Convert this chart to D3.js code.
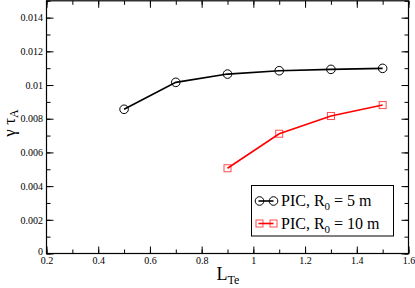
<!DOCTYPE html>
<html>
<head>
<meta charset="utf-8">
<script src="https://cdn.jsdelivr.net/npm/d3@7"></script>
<style>
	body { margin: 0; background: #fff; }
	svg text { font-family: "Liberation Serif", "DejaVu Serif", serif; fill: #000; }
	.domain { display: none; }
</style>
</head>
<body>
<div id="chart"></div>
<script>
// data
var lte5 = [0.5, 0.7, 0.9, 1.1, 1.3, 1.5];
var gamma5 = [0.00856, 0.01016, 0.01065, 0.01085, 0.01093, 0.01099];
var lte10 = [0.9, 1.1, 1.3, 1.5];
var gamma10 = [0.00506, 0.00711, 0.00816, 0.00881];

var xTicks = [0.2, 0.4, 0.6, 0.8, 1, 1.2, 1.4, 1.6];
var yTicks = [0, 0.002, 0.004, 0.006, 0.008, 0.01, 0.012, 0.014];

var series = [
	{name: "5 m", x: lte5, y: gamma5, color: "#000", symbol: "circle"},
	{name: "10 m", x: lte10, y: gamma10, color: "#f00", symbol: "square"}
];

var W = 415, H = 288;
var margin = {top: 0.8, right: 6.5, bottom: 34.5, left: 46.5},
	width = W - margin.left - margin.right,
	height = H - margin.top - margin.bottom;

var svg = d3.select("#chart").append("svg")
	.attr("width", W)
	.attr("height", H);

var plot = svg.append("g")
	.attr("transform", "translate(" + margin.left + "," + margin.top + ")");

var x = d3.scaleLinear().domain([0.2, 1.6]).range([0, width]);
var y = d3.scaleLinear().domain([0, 0.015]).range([height, 0]);

var fmt = function(d) { return d === 0 ? "0" : String(+d.toFixed(3)); };

var xMinor = d3.range(2, 17).map(function(i) { return i / 10; });
var yMinor = d3.range(0, 16).map(function(i) { return i / 1000; });

// minor ticks on all four sides
plot.append("g").attr("transform", "translate(0," + height + ")")
	.call(d3.axisBottom(x).tickValues(xMinor).tickSize(-4).tickFormat(""));
plot.append("g")
	.call(d3.axisTop(x).tickValues(xMinor).tickSize(-4).tickFormat(""));
plot.append("g")
	.call(d3.axisLeft(y).tickValues(yMinor).tickSize(-4).tickFormat(""));
plot.append("g").attr("transform", "translate(" + width + ",0)")
	.call(d3.axisRight(y).tickValues(yMinor).tickSize(-4).tickFormat(""));

// major ticks
plot.append("g").attr("class", "xAxis")
	.attr("transform", "translate(0," + height + ")")
	.call(d3.axisBottom(x).tickValues(xTicks).tickSize(-7).tickPadding(3.5).tickFormat(fmt));
plot.append("g")
	.call(d3.axisTop(x).tickValues(xTicks).tickSize(-7).tickFormat(""));
plot.append("g").attr("class", "yAxis")
	.call(d3.axisLeft(y).tickValues(yTicks).tickSize(-7).tickPadding(3.5).tickFormat(fmt));
plot.append("g").attr("transform", "translate(" + width + ",0)")
	.call(d3.axisRight(y).tickValues(yTicks).tickSize(-7).tickFormat(""));

plot.selectAll("g").attr("font-family", null).attr("font-size", null);
plot.selectAll(".tick text")
	.style("font-family", "'Liberation Serif', serif")
	.style("font-size", "10px");
plot.selectAll(".yAxis .tick").filter(function(d) { return d === 0; })
	.select("text").attr("dy", "0.1em");
plot.selectAll(".tick line").attr("stroke", "#000");

// frame
plot.append("rect")
	.attr("width", width)
	.attr("height", height)
	.attr("fill", "none")
	.attr("stroke", "#000")
	.attr("stroke-width", 1.2);

var line = d3.line()
	.x(function(d) { return x(d[0]); })
	.y(function(d) { return y(d[1]); });

function drawSymbol(g, s, cx, cy) {
	if (s.symbol === "circle") {
		g.append("circle").attr("cx", cx).attr("cy", cy).attr("r", 4.3)
			.attr("fill", "none").attr("stroke", s.color).attr("stroke-width", 1);
	} else {
		g.append("rect").attr("x", cx - 3.5).attr("y", cy - 3.5)
			.attr("width", 7).attr("height", 7)
			.attr("fill", "none").attr("stroke", s.color).attr("stroke-width", 1)
			.attr("stroke-opacity", 0.7);
	}
}

series.forEach(function(s) {
	var pts = s.x.map(function(v, i) { return [v, s.y[i]]; });
	plot.append("path")
		.datum(pts)
		.attr("d", line)
		.attr("fill", "none")
		.attr("stroke", s.color)
		.attr("stroke-width", 1.6);
	var g = plot.append("g");
	pts.forEach(function(p) { drawSymbol(g, s, x(p[0]), y(p[1])); });
});

// legend
var legend = svg.append("g");
legend.append("rect")
	.attr("x", 251.5).attr("y", 185.5)
	.attr("width", 142).attr("height", 50.5)
	.attr("fill", "#fff")
	.attr("stroke", "#000")
	.attr("stroke-width", 1);

series.forEach(function(s, i) {
	var cy = 201 + i * 22.5;
	legend.append("line")
		.attr("x1", 258.5).attr("x2", 273.5)
		.attr("y1", cy).attr("y2", cy)
		.attr("stroke", s.color).attr("stroke-width", 1.6);
	drawSymbol(legend, s, 259.5, cy);
	drawSymbol(legend, s, 273.5, cy);
	var t = legend.append("text")
		.attr("x", 281).attr("y", cy + 5)
		.style("font-size", "16px");
	t.append("tspan").text("PIC, R");
	t.append("tspan").attr("dy", 4).style("font-size", "11px").text("0");
	t.append("tspan").attr("dy", -4).text(" = " + s.name);
});

// axis labels
var yl = svg.append("text")
	.attr("transform", "translate(15," + 123 + ") rotate(-90)")
	.attr("text-anchor", "middle")
	.style("font-size", "17px");
yl.append("tspan").text("\u03b3 \u03c4");
yl.append("tspan").attr("dy", 3).style("font-size", "12px").text("A");

var xl = svg.append("text")
	.attr("x", 228).attr("y", 280)
	.attr("text-anchor", "middle")
	.style("font-size", "18px");
xl.append("tspan").text("L");
xl.append("tspan").attr("dy", 4).style("font-size", "12px").text("Te");
</script>
</body>
</html>
